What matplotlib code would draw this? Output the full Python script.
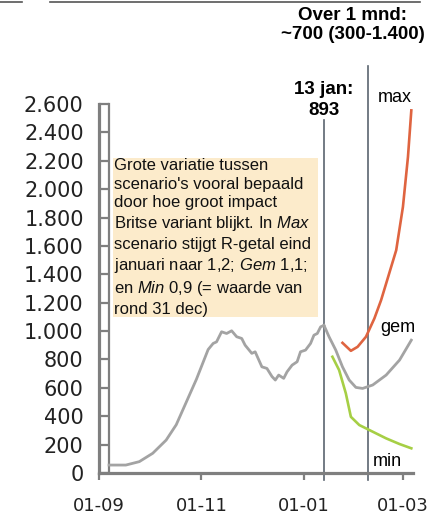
import matplotlib
matplotlib.use("Agg")
import matplotlib.pyplot as plt
import pandas as pd
from matplotlib.patches import Rectangle
from matplotlib.lines import Line2D
from matplotlib.transforms import offset_copy, blended_transform_factory

# ---------------- data ----------------
start = pd.Timestamp("2020-09-01")

# measured hospital occupancy (day offset from 1 Sept 2020, value)
meas_days = [6, 16, 24, 32, 40, 46, 52, 58, 62, 65, 68, 70, 73, 76, 79, 82, 85, 87,
             91, 93, 97, 100, 103, 105, 107, 110, 112, 115, 118, 120, 123, 126, 128,
             130, 132, 134]
meas_vals = [56, 56, 80, 139, 232, 340, 500, 660, 780, 870, 913, 924, 995, 983, 1002,
             960, 948, 901, 843, 854, 748, 737, 680, 655, 690, 667, 713, 760, 784, 854,
             866, 913, 971, 983, 1030, 1040]

gem_days = [134, 137, 141, 145, 149, 153, 157, 163, 171, 179, 186]
gem_vals = [1040, 960, 866, 748, 655, 603, 596, 620, 690, 796, 936]

max_days = [145, 150, 154, 159, 164, 168, 171, 177, 181, 184, 186]
max_vals = [917, 861, 889, 960, 1089, 1218, 1335, 1570, 1875, 2227, 2555]

min_days = [139, 143, 147, 150, 155, 163, 171, 179, 186]
min_vals = [819, 725, 561, 396, 338, 291, 244, 204, 174]

jan13_date = "2021-01-13"
month_date = "2021-02-08"

x_tick_dates = ["2020-09-01", "2020-11-01", "2021-01-01", "2021-03-01"]
x_tick_labels = ["01-09", "01-11", "01-01", "01-03"]
y_ticks = list(range(0, 2601, 200))

box_text = ("Grote variatie tussen\n"
            "scenario's vooral bepaald\n"
            "door hoe groot impact\n"
            "Britse variant blijkt. In $\\mathit{Max}$\n"
            "scenario stijgt R-getal eind\n"
            "januari naar 1,2; $\\mathit{Gem}$ 1,1;\n"
            "en $\\mathit{Min}$ 0,9 (= waarde van\n"
            "rond 31 dec)")

def day(d):
    return (pd.Timestamp(d) - start).days

# ---------------- figure ----------------
plt.rcParams['mathtext.fontset'] = 'custom'
plt.rcParams['mathtext.it'] = 'Liberation Sans:italic'
plt.rcParams['mathtext.rm'] = 'Liberation Sans'

W, H = 433, 515
fig = plt.figure(figsize=(W / 100, H / 100), dpi=100)
ax = fig.add_axes([99 / W, 42 / H, 314 / W, 369 / H])

axis_col = '#7f7f7f'
gray = '#a3a3a3'
red = '#df6440'
green = '#a6cf45'
vcol = '#5b6570'

ax.plot(meas_days, meas_vals, color=gray, lw=2.0, solid_joinstyle='round', zorder=3)
ax.plot(gem_days, gem_vals, color=gray, lw=2.0, solid_joinstyle='round', zorder=3)
ax.plot(max_days, max_vals, color=red, lw=1.9, zorder=3)
ax.plot(min_days, min_vals, color=green, lw=1.9, zorder=3)

ax.set_xlim(0, 187)
ax.set_ylim(0, 2600)

for s in ['top', 'right']:
    ax.spines[s].set_visible(False)
for s in ['left', 'bottom']:
    ax.spines[s].set_color(axis_col)
    ax.spines[s].set_linewidth(2.3)

ax.set_yticks(y_ticks)
ax.set_yticklabels([f"{v:,}".replace(",", ".") for v in y_ticks],
                   fontsize=15, color='#222222', family='DejaVu Sans')
ax.tick_params(axis='y', direction='in', length=7, width=1.6, color=axis_col, pad=11)

ax.set_xticks([day(d) for d in x_tick_dates])
ax.set_xticklabels(x_tick_labels, fontsize=13, color='#222222', family='DejaVu Sans')
ax.tick_params(axis='x', direction='out', length=5, width=1.6, color=axis_col, pad=12)

# inner line of the "ladder" axis
ax.plot([0, 0], [0, 1], color=axis_col, lw=1.6,
        transform=offset_copy(ax.transAxes, fig=fig, x=9.5, y=0, units='dots'),
        clip_on=False, zorder=2)

# vertical reference lines
ax.axvline(day(jan13_date), ymin=-0.02, ymax=0.957, color=vcol, lw=1.2, clip_on=False, zorder=2)
ax.axvline(day(month_date), ymin=-0.02, ymax=1.103, color=vcol, lw=1.2, clip_on=False, zorder=2)

# text box
fig.add_artist(Rectangle((113 / W, 1 - 317 / H), 205 / W, 159 / H,
                         transform=fig.transFigure, facecolor='#fcebcb',
                         edgecolor='none', zorder=1))
fig.text(114 / W, 1 - 158 / H, box_text, ha='left', va='top', fontsize=12,
         family='Liberation Sans', linespacing=1.3, color='#111111', zorder=2)

# annotations
bt = blended_transform_factory(ax.transData, fig.transFigure)
ax.text(day(jan13_date), 1 - 100 / H, "13 jan:\n893", transform=bt, ha='center', va='center',
        fontsize=13.5, fontweight='bold', family='Liberation Sans', linespacing=1.3)
fig.text(353 / W, 1 - 25 / H, "Over 1 mnd:\n~700 (300-1.400)", ha='center', va='center',
         fontsize=13.5, fontweight='bold', family='Liberation Sans', linespacing=1.1)
fig.text(395 / W, 1 - 97 / H, "max", ha='center', va='center', fontsize=13, family='Liberation Sans')
fig.text(398 / W, 1 - 327 / H, "gem", ha='center', va='center', fontsize=13, family='Liberation Sans')
fig.text(387 / W, 1 - 461 / H, "min", ha='center', va='center', fontsize=13, family='Liberation Sans')

# top frame line
for x0, x1 in [(0, 22), (50, 420)]:
    fig.add_artist(Line2D([x0 / W, x1 / W], [1 - 1.5 / H, 1 - 1.5 / H],
                          transform=fig.transFigure, color='#555555', lw=1.2))

fig.savefig("out.png", dpi=100)
